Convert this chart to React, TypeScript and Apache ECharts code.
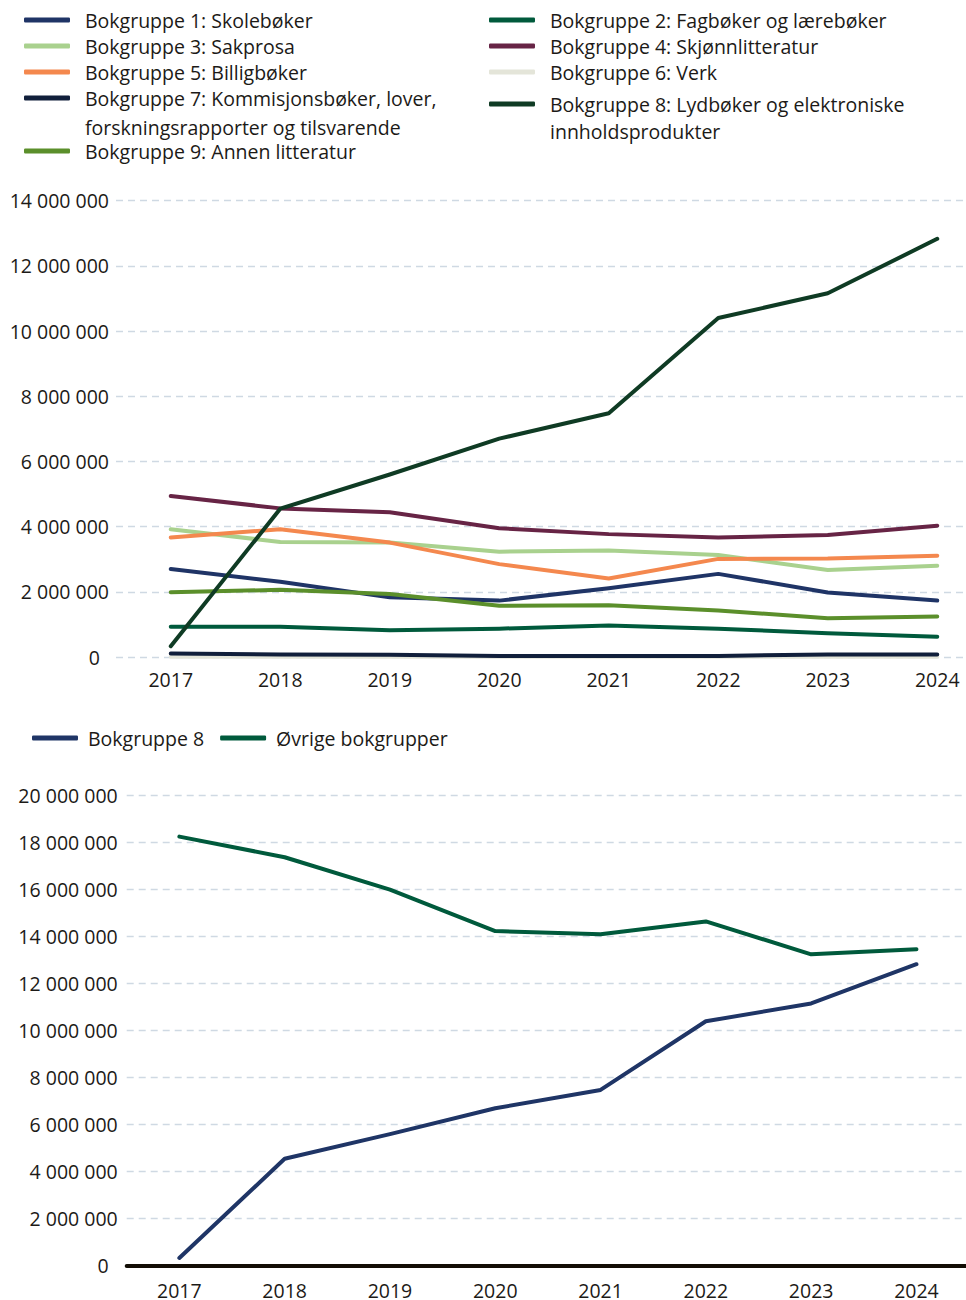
import React, { useEffect, useRef } from "react";
import * as echarts from "echarts";

const YEARS = ["2017", "2018", "2019", "2020", "2021", "2022", "2023", "2024"];

const BG1 = [2700000, 2310000, 1830000, 1730000, 2110000, 2550000, 1980000, 1730000];
const BG2 = [930000, 930000, 820000, 870000, 970000, 870000, 730000, 620000];
const BG3 = [3920000, 3530000, 3510000, 3230000, 3270000, 3130000, 2670000, 2800000];
const BG4 = [4940000, 4560000, 4440000, 3950000, 3770000, 3670000, 3740000, 4030000];
const BG5 = [3670000, 3920000, 3510000, 2850000, 2410000, 3010000, 3020000, 3110000];
const BG6 = [8000, 8000, 8000, 5000, 5000, 5000, 5000, 5000];
const BG7 = [110000, 80000, 70000, 30000, 30000, 30000, 80000, 80000];
const BG8 = [330000, 4550000, 5600000, 6700000, 7480000, 10400000, 11160000, 12830000];
const BG9 = [1990000, 2060000, 1930000, 1570000, 1590000, 1430000, 1190000, 1240000];
const OTHER = [18260000, 17380000, 16000000, 14240000, 14100000, 14650000, 13250000, 13470000];

const N1 = "Bokgruppe 1: Skolebøker";
const N2 = "Bokgruppe 2: Fagbøker og lærebøker";
const N3 = "Bokgruppe 3: Sakprosa";
const N4 = "Bokgruppe 4: Skjønnlitteratur";
const N5 = "Bokgruppe 5: Billigbøker";
const N6 = "Bokgruppe 6: Verk";
const N7 = "Bokgruppe 7: Kommisjonsbøker, lover, forskningsrapporter og tilsvarende";
const N8 = "Bokgruppe 8: Lydbøker og elektroniske innholdsprodukter";
const N9 = "Bokgruppe 9: Annen litteratur";
const B8 = "Bokgruppe 8";
const BO = "Øvrige bokgrupper";

const N7_L1 = "Bokgruppe 7: Kommisjonsbøker, lover,";
const N7_L2 = "forskningsrapporter og tilsvarende";
const N8_L1 = "Bokgruppe 8: Lydbøker og elektroniske";
const N8_L2 = "innholdsprodukter";

const FONT = "'Open Sans', 'DejaVu Sans', sans-serif";
const FS = 19.5;
const TXT = "#1c1a17";

const fmt = (v: number) =>
  v === 0 ? "{z|0}" : String(v).replace(/\B(?=(\d{3})+(?!\d))/g, " ");

const legendFmt = (name: string) => {
  if (name === N7) return N7_L1;
  if (name === N8) return N8_L1;
  return name;
};

export default function App() {
  const ref = useRef<HTMLDivElement>(null);
  useEffect(() => {
    if (!ref.current) return;
    const chart = echarts.init(ref.current, undefined, { renderer: "svg" });

    const line = (name: string, data: number[], color: string, xi: number) => ({
      name,
      type: "line",
      data,
      xAxisIndex: xi,
      yAxisIndex: xi,
      symbol: "none",
      showSymbol: false,
      itemStyle: { color },
      lineStyle: { color, width: 4, cap: "round", join: "round" },
      emphasis: { disabled: true },
    });

    const legendBase = {
      icon: "roundRect",
      itemWidth: 46,
      itemHeight: 5,
      itemGap: 0,
      padding: 0,
      selectedMode: false,
      formatter: legendFmt,
      textStyle: {
        fontFamily: FONT,
        fontSize: FS,
        color: TXT,
        lineHeight: 26,
        padding: [0, 0, 0, 10],
      },
    };

    const splitLine = {
      show: true,
      lineStyle: { color: "#cfd9e3", type: [7, 5], width: 1.4 },
    };

    const option: any = {
      animation: false,
      backgroundColor: "#ffffff",
      textStyle: { fontFamily: FONT },
      legend: [
        { ...legendBase, orient: "vertical", left: 24, top: 7, data: [N1, N3, N5, N7] },
        { ...legendBase, orient: "vertical", left: 24, top: 140, data: [N9], textStyle: { ...legendBase.textStyle, lineHeight: 22 } },
        { ...legendBase, orient: "vertical", left: 489, top: 7, data: [N2, N4, N6] },
        { ...legendBase, orient: "vertical", left: 489, top: 91, data: [N8] },
        {
          ...legendBase,
          orient: "horizontal",
          left: 32,
          top: 725,
          itemGap: 16,
          data: [B8, BO],
          textStyle: { ...legendBase.textStyle, padding: [0, 0, 0, 5] },
        },
      ],
      graphic: [
        {
          type: "text",
          x: 85,
          y: 127,
          style: { text: N7_L2, font: `${FS}px ${FONT}`, fill: TXT, verticalAlign: "middle", lineHeight: 20 },
        },
        {
          type: "text",
          x: 550,
          y: 131,
          style: { text: N8_L2, font: `${FS}px ${FONT}`, fill: TXT, verticalAlign: "middle", lineHeight: 20 },
        },
      ],
      grid: [
        { left: 116, top: 200.7, width: 876, height: 456.3, outerBoundsMode: "none", containLabel: false },
        { left: 126.7, top: 795.7, width: 842.4, height: 470, outerBoundsMode: "none", containLabel: false },
      ],
      xAxis: [
        {
          type: "category",
          gridIndex: 0,
          data: YEARS,
          boundaryGap: true,
          axisLine: { show: false },
          axisTick: { show: false },
          axisLabel: { margin: 12, fontSize: FS, color: TXT, fontFamily: FONT },
        },
        {
          type: "category",
          gridIndex: 1,
          data: YEARS,
          boundaryGap: true,
          axisLine: { show: true, lineStyle: { color: "#120d05", width: 4 } },
          axisTick: { show: false },
          axisLabel: { margin: 17, lineHeight: 16, fontSize: FS, color: TXT, fontFamily: FONT },
        },
      ],
      yAxis: [
        {
          type: "value",
          gridIndex: 0,
          min: 0,
          max: 14000000,
          interval: 2000000,
          axisLine: { show: false },
          axisTick: { show: false },
          splitLine,
          axisLabel: {
            margin: 7,
            fontSize: FS,
            color: TXT,
            fontFamily: FONT,
            formatter: fmt,
            rich: { z: { fontSize: FS, color: TXT, fontFamily: FONT, padding: [0, 9, 0, 0] } },
          },
        },
        {
          type: "value",
          gridIndex: 1,
          min: 0,
          max: 20000000,
          interval: 2000000,
          axisLine: { show: false },
          axisTick: { show: false },
          splitLine,
          axisLabel: {
            margin: 9,
            fontSize: FS,
            color: TXT,
            fontFamily: FONT,
            formatter: fmt,
            rich: { z: { fontSize: FS, color: TXT, fontFamily: FONT, padding: [0, 9, 0, 0] } },
          },
        },
      ],
      series: [
        line(N6, BG6, "#e4e5d9", 0),
        line(N3, BG3, "#a9d18e", 0),
        line(N1, BG1, "#1f3466", 0),
        line(N2, BG2, "#005a3c", 0),
        line(N4, BG4, "#672445", 0),
        line(N5, BG5, "#f4884e", 0),
        line(N7, BG7, "#111f3b", 0),
        line(N9, BG9, "#5b8f2b", 0),
        line(N8, BG8, "#0f3b24", 0),
        line(BO, OTHER, "#005a3c", 1),
        line(B8, BG8, "#1f3566", 1),
      ],
    };

    chart.setOption(option);
    return () => chart.dispose();
  }, []);

  return (
    <div
      style={{
        position: "absolute",
        left: 0,
        top: 0,
        width: 966,
        height: 1300,
        overflow: "hidden",
        background: "#ffffff",
      }}
    >
      <div ref={ref} style={{ width: 1000, height: 1300 }} />
    </div>
  );
}
